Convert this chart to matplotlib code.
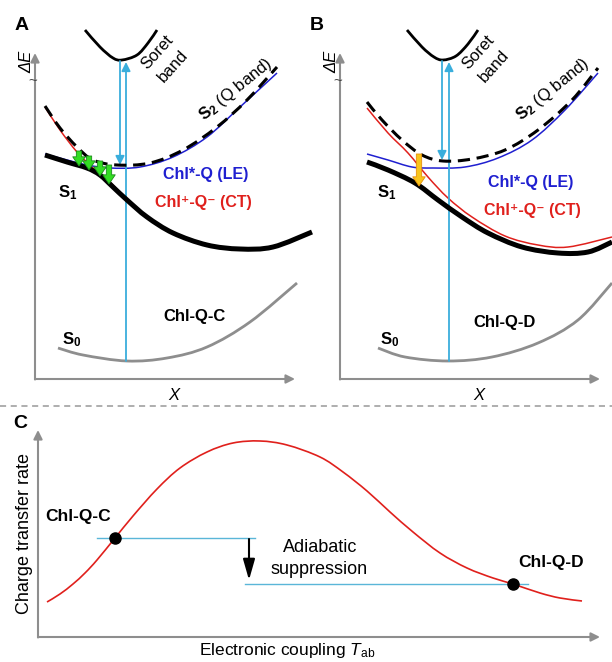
import numpy as np
import matplotlib
matplotlib.use("Agg")
import matplotlib.pyplot as plt
from matplotlib.path import Path
from matplotlib.patches import PathPatch

plt.rcParams['font.family'] = ['Liberation Sans', 'DejaVu Sans']
plt.rcParams['mathtext.fontset'] = 'custom'
plt.rcParams['mathtext.rm'] = 'Liberation Sans'
plt.rcParams['mathtext.it'] = 'Liberation Sans:italic'
plt.rcParams['mathtext.bf'] = 'Liberation Sans:bold'

# ---------------- data (schematic curves, figure pixel coordinates) -------------
# Panel A (Chl-Q-C)
soret_A_x = [85, 100, 113, 122, 137, 148, 157]
soret_A_y = [30, 47, 58, 60, 55, 43, 30]
s2_A_x = [45, 60, 77, 93, 117, 150, 183, 217, 247, 277]
s2_A_y = [106, 128, 147, 160, 165, 163, 150, 127, 100, 67]
le_A_x = [45, 67, 87, 110, 140, 173, 207, 240, 277]
le_A_y = [154, 160, 165, 168, 167, 157, 137, 107, 73]
ct_A_x = [45, 60, 77, 93, 110, 127, 147, 173, 207, 240, 273, 310]
ct_A_y = [107, 130, 152, 168, 182, 200, 217, 233, 245, 249, 247, 233]
s1_A_x = [45, 67, 87, 100, 113, 127, 147, 173, 207, 240, 273, 312]
s1_A_y = [155, 162, 168, 175, 187, 200, 217, 233, 245, 249, 247, 232]
s0_A_x = [58, 83, 127, 167, 207, 250, 297]
s0_A_y = [348, 355, 361, 358, 347, 322, 283]
green_x = [79, 89, 100, 109]
green_top = [151, 156, 161, 165]
green_tip = [166, 170, 176, 184]

# Panel B (Chl-Q-D)
soret_B_x = [407, 422, 434, 443, 456, 468, 478]
soret_B_y = [30, 47, 57, 60, 56, 44, 30]
s2_B_x = [367, 382, 402, 422, 443, 472, 505, 538, 572, 598]
s2_B_y = [102, 120, 140, 155, 161, 159, 150, 130, 100, 68]
le_B_x = [367, 388, 412, 433, 465, 498, 532, 565, 598]
le_B_y = [154, 160, 167, 168, 167, 158, 140, 110, 73]
ct_B_x = [367, 388, 408, 428, 448, 472, 505, 538, 568, 612]
ct_B_y = [108, 133, 153, 177, 198, 217, 236, 245, 247, 237]
s1_B_x = [367, 388, 415, 438, 462, 488, 522, 558, 588, 612]
s1_B_y = [162, 170, 183, 200, 217, 233, 247, 253, 252, 242]
s0_B_x = [378, 405, 448, 492, 538, 578, 612]
s0_B_y = [348, 357, 361, 357, 343, 320, 283]
orange_x, orange_top, orange_tip = 419, 154, 186

# Panel C: charge-transfer rate vs electronic coupling
rate_x = [47, 60, 73, 85, 97, 115, 133, 157, 180, 207, 233, 260, 287, 320, 343, 367,
          390, 413, 440, 467, 493, 513, 540, 560, 582]
rate_y = [602, 594, 584, 573, 560, 538, 516, 489, 468, 452, 443, 441, 445, 457, 472,
          491, 512, 532, 553, 568, 578, 584, 593, 598, 601]
pts_x = [115, 513]
pts_y = [538, 584]
pts_labels = ["Chl-Q-C", "Chl-Q-D"]

# ---------------- helpers -------------------------------------------------------
def smooth(xs, ys):
    p = np.column_stack([xs, ys]).astype(float)
    n = len(p)
    verts = [p[0]]
    codes = [Path.MOVETO]
    for i in range(n - 1):
        p0 = p[i - 1] if i > 0 else p[i]
        p1, p2 = p[i], p[i + 1]
        p3 = p[i + 2] if i + 2 < n else p[i + 1]
        c1 = p1 + (p2 - p0) / 6.0
        c2 = p2 - (p3 - p1) / 6.0
        verts += [c1, c2, p2]
        codes += [Path.CURVE4] * 3
    return Path(verts, codes)

def curve(ax, xs, ys, **kw):
    ax.add_patch(PathPatch(smooth(xs, ys), fill=False, capstyle='butt', **kw))

def arrow(ax, start, tip, color, lw=1.3, ms=12, style='-|>'):
    ax.annotate('', xy=tip, xytext=start,
                arrowprops=dict(arrowstyle=style, color=color, lw=lw,
                                mutation_scale=ms, shrinkA=0, shrinkB=0))

GRAY = '#8e8e8e'
CYAN = '#3aaedc'
BLUE = '#1f1fd0'
RED = '#e0201c'

fig = plt.figure(figsize=(6.12, 6.62), dpi=100)
ax = fig.add_axes([0, 0, 1, 1])
ax.set_xlim(0, 612)
ax.set_ylim(662, 0)
ax.axis('off')

# ---------------- panels A and B -----------------------------------------------
panels = [
    dict(x0=35, label='A', lx=22, soret=(soret_A_x, soret_A_y), s2=(s2_A_x, s2_A_y),
         le=(le_A_x, le_A_y), ct=(ct_A_x, ct_A_y), s1=(s1_A_x, s1_A_y), s0=(s0_A_x, s0_A_y),
         down_x=120, up_x=126, down_tip=165, name='Chl-Q-C'),
    dict(x0=340, label='B', lx=317, soret=(soret_B_x, soret_B_y), s2=(s2_B_x, s2_B_y),
         le=(le_B_x, le_B_y), ct=(ct_B_x, ct_B_y), s1=(s1_B_x, s1_B_y), s0=(s0_B_x, s0_B_y),
         down_x=442, up_x=449, down_tip=160, name='Chl-Q-D'),
]

for k, P in enumerate(panels):
    x0 = P['x0']
    # axes
    arrow(ax, (x0, 379.5), (x0, 53), GRAY, lw=1.5, ms=13)
    arrow(ax, (x0, 379), (x0 + 260, 379), GRAY, lw=1.5, ms=13)
    ax.text(P['lx'], 25, P['label'], fontsize=14, fontweight='bold', ha='center', va='center')
    ax.text(x0 - 8, 62, 'ΔE', fontsize=12, style='italic', rotation=90, ha='center', va='center')
    ax.text(x0 - 2, 81, '~', fontsize=11, ha='center', va='center', color='#444444')
    ax.text(x0 + 139, 395, 'X', fontsize=12, style='italic', ha='center', va='center')

    # curves
    curve(ax, *P['s0'], color=GRAY, lw=2.0, zorder=2)
    curve(ax, *P['soret'], color='black', lw=2.0, zorder=3)
    curve(ax, *P['ct'], color=RED, lw=1.1, zorder=3)
    curve(ax, *P['le'], color=BLUE, lw=1.1, zorder=3)
    curve(ax, *P['s1'], color='black', lw=3.6, zorder=4)
    curve(ax, *P['s2'], color='black', lw=2.2, linestyle=(0, (4.0, 2.2)), zorder=4)

    # excitation arrows
    sx = P['soret'][0][3]
    arrow(ax, (P['down_x'], 61), (P['down_x'], P['down_tip']), CYAN, lw=1.3, ms=13)
    arrow(ax, (P['up_x'], 361), (P['up_x'], 62), CYAN, lw=1.3, ms=13)

    # labels
    ax.text(sx + 35, 52, 'Soret', fontsize=12, rotation=48, ha='center', va='center')
    ax.text(sx + 51, 66, 'band', fontsize=12, rotation=48, ha='center', va='center')
    qx = 236 if k == 0 else 553
    ax.text(qx, 89, r'$\mathbf{S_2}$ (Q band)', fontsize=12, rotation=39,
            ha='center', va='center')
    lbx = 206 if k == 0 else 531
    lby = 175 if k == 0 else 183
    ax.text(lbx, lby, 'Chl*-Q (LE)', fontsize=11.5, fontweight='bold', color=BLUE,
            ha='center', va='center')
    ax.text(lbx + (-3 if k == 0 else 1), lby + 28 if k == 0 else lby + 27, 'Chl⁺-Q⁻ (CT)',
            fontsize=11.5, fontweight='bold', color=RED, ha='center', va='center')
    s1lx = 68 if k == 0 else 387
    ax.text(s1lx, 193, r'$\mathbf{S_1}$', fontsize=12, ha='center', va='center')
    ax.text(s1lx + 4 if k == 0 else s1lx + 3, 340, r'$\mathbf{S_0}$', fontsize=12,
            ha='center', va='center')
    ax.text(194 if k == 0 else 505, 316 if k == 0 else 322, P['name'], fontsize=12,
            fontweight='bold', ha='center', va='center')

# green relaxation arrows (panel A)
for gx, gt, gp in zip(green_x, green_top, green_tip):
    ax.annotate('', xy=(gx, gp), xytext=(gx, gt),
                arrowprops=dict(arrowstyle='simple,head_width=0.75,head_length=0.55,tail_width=0.32',
                                fc='#33dd22', ec='#1a8a1a', lw=0.6, mutation_scale=12,
                                shrinkA=0, shrinkB=0), zorder=6)
# orange arrow (panel B)
ax.annotate('', xy=(orange_x, orange_tip), xytext=(orange_x, orange_top),
            arrowprops=dict(arrowstyle='simple,head_width=0.75,head_length=0.55,tail_width=0.32',
                            fc='#f8c51c', ec='#e8900a', lw=0.6, mutation_scale=12,
                            shrinkA=0, shrinkB=0), zorder=6)

# separator
ax.plot([0, 612], [406, 406], color='#999999', lw=1.1, linestyle=(0, (4, 3)))

# ---------------- panel C -------------------------------------------------------
arrow(ax, (38, 637.5), (38, 430), GRAY, lw=1.5, ms=13)
arrow(ax, (38, 637), (600, 637), GRAY, lw=1.5, ms=13)
ax.text(20, 423, 'C', fontsize=14, fontweight='bold', ha='center', va='center')
ax.text(25, 533, 'Charge transfer rate', fontsize=13, rotation=90, ha='center', va='center')
ax.text(287, 651, 'Electronic coupling $T_{\\mathrm{ab}}$', fontsize=12.5,
        ha='center', va='center')

curve(ax, rate_x, rate_y, color=RED, lw=1.2, zorder=3)
ax.plot([97, 255], [pts_y[0], pts_y[0]], color='#5ab6d8', lw=1.0, zorder=2)
ax.plot([245, 528], [pts_y[1], pts_y[1]], color='#5ab6d8', lw=1.0, zorder=2)
ax.plot(pts_x, pts_y, 'o', color='black', markersize=8, zorder=5)
arrow(ax, (249, 539), (249, 580), 'black', lw=1.5, ms=18,
      style='-|>,head_width=0.2,head_length=0.7')
ax.text(45, 517, pts_labels[0], fontsize=12.5, fontweight='bold', ha='left', va='center')
ax.text(551, 562, pts_labels[1], fontsize=12.5, fontweight='bold', ha='center', va='center')
ax.text(320, 547, 'Adiabatic', fontsize=13, ha='center', va='center')
ax.text(319, 569, 'suppression', fontsize=13, ha='center', va='center')

fig.savefig('out.png', dpi=100)
